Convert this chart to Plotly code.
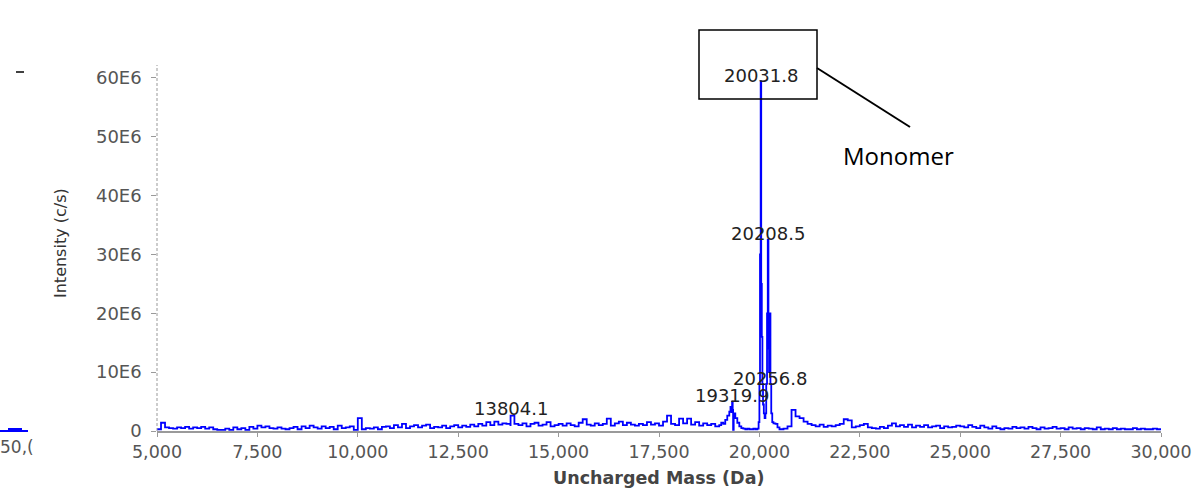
import plotly.graph_objects as go

# ---------------- data (intensities in units of 1E6 c/s) ----------------
# background spectrum, 5,000-19,000 Da sampled every 100 Da
bg1_start, bg1_step = 5000, 100
bg1_vals = [
    0.3, 1.4, 0.6, 0.5, 0.4, 0.6, 0.5, 0.7, 0.4, 0.6,
    0.5, 0.7, 0.4, 0.6, 0.3, 0.2, 0.2, 0.4, 0.2, 0.6,
    0.3, 0.5, 0.2, 0.7, 0.4, 0.9, 0.6, 0.8, 0.5, 0.4,
    0.6, 0.4, 0.3, 0.5, 0.7, 0.3, 0.8, 0.5, 0.9, 0.6,
    0.4, 0.8, 0.5, 0.7, 0.3, 0.9, 0.5, 0.6, 0.8, 0.2,
    2.2, 0.3, 0.5, 0.4, 0.6, 0.3, 0.7, 0.8, 0.5, 1.0,
    0.6, 1.2, 0.5, 0.8, 1.0, 0.6, 0.9, 1.1, 0.5, 0.7,
    0.6, 0.9, 0.5, 0.8, 1.0, 0.6, 0.9, 0.7, 1.1, 0.8,
    1.2, 0.9, 1.5, 1.0, 1.6, 1.1, 1.3, 1.2, 1.0, 1.2,
    1.0, 1.3, 0.8, 1.2, 1.4, 0.9, 1.1, 1.5, 0.8, 1.0,
    1.2, 0.9, 1.3, 1.0, 0.8, 1.4, 2.0, 1.1, 0.9, 1.3,
    1.0, 1.2, 2.1, 0.9, 1.3, 1.6, 1.0, 1.4, 1.1, 0.9,
    1.2, 1.0, 1.5, 1.1, 1.3, 0.9, 1.6, 2.6, 1.2, 1.0,
    2.1, 1.3, 2.1, 1.1, 1.5, 0.9, 1.3, 1.0, 1.2, 0.8,
    1.0,
]

# peak region, 19,000-20,500 Da (plus the labelled 13804.1 peak)
peak_mass = [13804.1,
             19050, 19100, 19150, 19200, 19250, 19280, 19300, 19319.9, 19335,
             19345, 19360, 19400, 19450, 19500, 19550, 19600, 19650, 19700,
             19750, 19800, 19850, 19900, 19950, 19980, 20000, 20015, 20031.8,
             20045, 20060, 20075, 20090, 20110, 20130, 20150, 20170, 20190,
             20208.5, 20225, 20240, 20256.8, 20275, 20295, 20320, 20350,
             20400, 20450, 20500]
peak_vals = [2.6,
             1.4, 1.2, 1.9, 2.6, 3.3, 4.1, 3.2, 5.0, 3.6,
             0.2, 3.0, 2.2, 1.4, 0.8, 0.5, 0.4, 0.3, 0.4,
             0.3, 0.3, 0.4, 0.3, 0.4, 1.5, 8.0, 30.0, 59.4,
             25.0, 16.0, 8.0, 4.5, 3.0, 2.2, 3.0, 8.0, 20.0,
             32.5, 14.0, 10.0, 20.0, 8.0, 3.0, 1.5, 1.3,
             1.2, 0.6, 0.3]

# background spectrum, 20,600-30,000 Da sampled every 100 Da
bg2_start, bg2_step = 20600, 100
bg2_vals = [
    0.4, 0.8, 3.6, 2.5,
    2.2, 1.6, 1.2, 1.0, 0.8, 1.1, 0.7, 0.9, 0.8, 1.0,
    1.2, 2.0, 1.8, 0.6, 0.8, 1.0, 1.2, 0.6, 0.5, 0.4,
    0.7, 0.5, 0.9, 1.3, 0.8, 1.0, 0.7, 1.1, 0.6, 0.9,
    0.7, 1.0, 0.6, 0.8, 0.9, 0.5, 0.8, 0.6, 0.7, 0.9,
    0.8, 0.6, 1.0, 0.7, 0.5, 0.9, 0.6, 0.4, 0.8, 0.5,
    0.3, 0.5, 0.4, 0.7, 0.5, 0.6, 0.4, 0.7, 0.5, 0.3,
    0.6, 0.4, 0.5, 0.7, 0.4, 0.5, 0.3, 0.6, 0.4, 0.5,
    0.3, 0.5, 0.4, 0.3, 0.6, 0.3, 0.4, 0.3, 0.5, 0.3,
    0.4, 0.3, 0.3, 0.5, 0.3, 0.4, 0.3, 0.3, 0.4, 0.3,
    0.2,
]

# labelled peaks: mass, label height (1E6)
label_mass = [20031.8, 20208.5, 20256.8, 19319.9, 13804.1]
label_text = ["20031.8", "20208.5", "20256.8", "19319.9", "13804.1"]
label_y = [60.5, 33.5, 9.0, 5.95, 3.9]

y_tick_vals = [0, 10, 20, 30, 40, 50, 60]
y_tick_text = ["0", "10E6", "20E6", "30E6", "40E6", "50E6", "60E6"]
x_tick_vals = [5000, 7500, 10000, 12500, 15000, 17500, 20000, 22500, 25000, 27500, 30000]
x_tick_text = ["5,000", "7,500", "10,000", "12,500", "15,000", "17,500",
               "20,000", "22,500", "25,000", "27,500", "30,000"]

# ---------------- assemble spectrum ----------------
pts = []
pts += [(bg1_start + i * bg1_step, v) for i, v in enumerate(bg1_vals)]
pts += list(zip(peak_mass, peak_vals))
pts += [(bg2_start + i * bg2_step, v) for i, v in enumerate(bg2_vals)]
pts.sort(key=lambda p: p[0])
mass = [p[0] for p in pts]
inten = [p[1] for p in pts]

fig = go.Figure()
fig.add_trace(go.Scatter(x=mass, y=inten, mode="lines",
                         line=dict(color="#0000FF", width=1.8, shape="hv"),
                         hoverinfo="skip", showlegend=False))

W, H = 1195, 491
L, R, T, B = 157, 1161, 65, 431
pw, ph = R - L, B - T


def px(x):
    return (x - L) / pw


def py(y):
    return (B - y) / ph


FONT = "DejaVu Sans"
ann = []
for m, t, yv in zip(label_mass, label_text, label_y):
    ann.append(dict(x=m, y=yv, xref="x", yref="y", text=t, showarrow=False,
                    xanchor="center", yanchor="middle",
                    font=dict(family=FONT, size=18, color="#222222")))

ann.append(dict(x=px(60), y=py(243), xref="paper", yref="paper",
                text="Intensity (c/s)", textangle=-90, showarrow=False,
                xanchor="center", yanchor="middle",
                font=dict(family=FONT, size=16, color="#333333")))
ann.append(dict(x=px(658), y=py(478), xref="paper", yref="paper",
                text="<b>Uncharged Mass (Da)</b>", showarrow=False,
                xanchor="center", yanchor="middle",
                font=dict(family=FONT, size=17.5, color="#444444")))
ann.append(dict(x=px(898), y=py(155), xref="paper", yref="paper",
                text="Monomer", showarrow=False,
                xanchor="center", yanchor="middle",
                font=dict(family="Open Sans", size=24, color="#000000")))
ann.append(dict(x=px(-2), y=py(447), xref="paper", yref="paper",
                text="50,(", showarrow=False,
                xanchor="left", yanchor="middle",
                font=dict(family=FONT, size=17, color="#555555")))

shapes = [
    # dashed y-axis line
    dict(type="line", xref="paper", yref="paper", x0=0, x1=0, y0=0, y1=1,
         line=dict(color="#999999", width=1, dash="3px,2px")),
    # annotation box round the top peak
    dict(type="rect", xref="paper", yref="paper",
         x0=px(699), x1=px(817), y0=py(99), y1=py(30),
         line=dict(color="#000000", width=1.5)),
    # connector to "Monomer"
    dict(type="line", xref="paper", yref="paper",
         x0=px(817), y0=py(68), x1=px(910), y1=py(127),
         line=dict(color="#000000", width=2)),
    # left-hand fragments
    dict(type="line", xref="paper", yref="paper",
         x0=px(16), x1=px(24), y0=py(72), y1=py(72),
         line=dict(color="#000000", width=1.5)),
    dict(type="line", xref="paper", yref="paper",
         x0=px(0), x1=px(28), y0=py(431), y1=py(431),
         line=dict(color="#0000FF", width=2)),
    dict(type="line", xref="paper", yref="paper",
         x0=px(8), x1=px(22), y0=py(429), y1=py(429),
         line=dict(color="#0000FF", width=2)),
]

fig.update_layout(
    width=W, height=H, autosize=False,
    margin=dict(l=L, r=W - R, t=T, b=H - B, pad=0),
    paper_bgcolor="white", plot_bgcolor="white",
    showlegend=False,
    xaxis=dict(range=[5000, 30000], tickvals=x_tick_vals, ticktext=x_tick_text,
               automargin=False,
               showgrid=False, zeroline=False, showline=True,
               linecolor="#9a9a9a", linewidth=2,
               ticks="outside", ticklen=4, tickcolor="#9a9a9a", tickwidth=1,
               tickfont=dict(family=FONT, size=17.5, color="#555555")),
    yaxis=dict(range=[0, 62.2], tickvals=y_tick_vals,
               ticktext=[t + "\u00a0" for t in y_tick_text],
               automargin=False,
               showgrid=False, zeroline=False, showline=False,
               ticks="outside", ticklen=5, tickcolor="#9a9a9a", tickwidth=1,
               tickfont=dict(family=FONT, size=18, color="#555555")),
    annotations=ann,
    shapes=shapes,
)

fig.write_html("out.html",
               config={"displayModeBar": False, "responsive": False},
               post_script="document.body.style.margin='0';"
                           "document.body.style.overflow='hidden';")
